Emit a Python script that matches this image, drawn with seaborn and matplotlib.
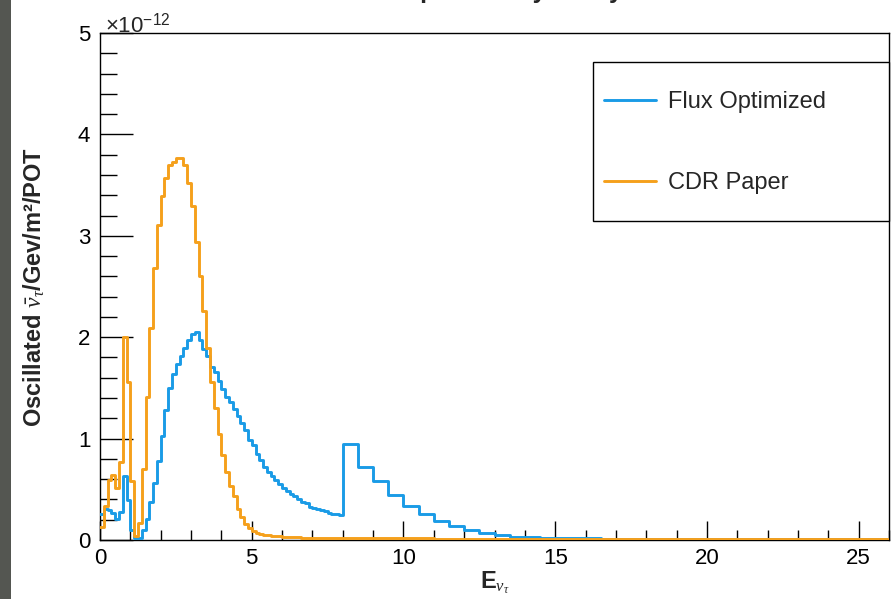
import numpy as np
import pandas as pd
import matplotlib
matplotlib.use("Agg")
import matplotlib.pyplot as plt
from matplotlib.lines import Line2D
from matplotlib.patches import Rectangle
from matplotlib.ticker import MultipleLocator
import seaborn as sns

# ---------------- data (flux in units of 1e-12) ----------------
fine_step = 0.125      # bin width below 8 GeV
coarse_step = 0.5      # bin width above 8 GeV
e_split = 8.0
e_max = 26.0

flux_optimized_fine = [0.26, 0.31, 0.30, 0.27, 0.21, 0.28, 0.63, 0.39, 0.10, 0.02, 0.02, 0.10, 0.21, 0.37,
                       0.56, 0.78, 1.03, 1.28, 1.50, 1.64, 1.74, 1.81, 1.89, 1.97, 2.03, 2.05, 1.97, 1.88,
                       1.81, 1.71, 1.66, 1.57, 1.49, 1.41, 1.36, 1.29, 1.22, 1.15, 1.08, 0.99, 0.94, 0.85,
                       0.79, 0.72, 0.67, 0.63, 0.59, 0.55, 0.51, 0.48, 0.45, 0.43, 0.40, 0.37, 0.36, 0.33,
                       0.32, 0.31, 0.30, 0.29, 0.27, 0.26, 0.26, 0.25]
flux_optimized_coarse = [0.95, 0.72, 0.58, 0.44, 0.335, 0.26, 0.19, 0.14, 0.10, 0.07, 0.045, 0.03, 0.025,
                         0.02, 0.018, 0.016, 0.015, 0.014, 0.013, 0.012, 0.011, 0.011, 0.01, 0.01, 0.01,
                         0.01, 0.01, 0.01, 0.01, 0.01, 0.01, 0.01, 0.01, 0.01, 0.01, 0.01]

cdr_paper_fine = [0.13, 0.34, 0.59, 0.64, 0.51, 0.77, 2.00, 1.56, 0.58, 0.04, 0.17, 0.70, 1.41, 2.09,
                  2.68, 3.11, 3.39, 3.57, 3.70, 3.73, 3.77, 3.77, 3.70, 3.52, 3.29, 2.94, 2.60, 2.26,
                  1.89, 1.56, 1.30, 1.05, 0.84, 0.67, 0.53, 0.43, 0.31, 0.23, 0.16, 0.12, 0.09, 0.07,
                  0.06, 0.05, 0.05, 0.04, 0.04, 0.035, 0.03, 0.03, 0.025, 0.025, 0.025, 0.022, 0.022, 0.02,
                  0.02, 0.02, 0.02, 0.018, 0.018, 0.018, 0.018, 0.018]
cdr_paper_coarse = [0.018, 0.017, 0.016, 0.016, 0.015, 0.015, 0.014, 0.014, 0.013, 0.013, 0.013, 0.012,
                    0.012, 0.012, 0.012, 0.012, 0.012, 0.012, 0.012, 0.012, 0.012, 0.012, 0.012, 0.012,
                    0.012, 0.012, 0.012, 0.012, 0.012, 0.012, 0.012, 0.012, 0.012, 0.012, 0.012, 0.012]

series_labels = ["Flux Optimized", "CDR Paper"]
series_colors = ["#1a9be6", "#f5a01c"]
x_ticks = [0, 5, 10, 15, 20, 25]
y_ticks = [0, 1, 2, 3, 4, 5]

# ---------------- bins ----------------
edges = np.concatenate([np.arange(0, e_split + 1e-9, fine_step),
                        np.arange(e_split + coarse_step, e_max + 1e-9, coarse_step)])
centers = 0.5 * (edges[:-1] + edges[1:])
bin_list = [float(v) for v in edges]

df = pd.DataFrame({
    "E": np.concatenate([centers, centers]),
    "flux": np.concatenate([flux_optimized_fine + flux_optimized_coarse,
                            cdr_paper_fine + cdr_paper_coarse]),
    "sample": [series_labels[0]] * len(centers) + [series_labels[1]] * len(centers),
})

# ---------------- style ----------------
sns.set_style("white")
plt.rcParams["font.family"] = ["Liberation Sans", "DejaVu Sans"]
plt.rcParams["mathtext.fontset"] = "custom"
plt.rcParams["mathtext.rm"] = "Liberation Sans"
plt.rcParams["mathtext.it"] = "Liberation Serif:italic"
plt.rcParams["mathtext.bf"] = "Liberation Sans:bold"

fig = plt.figure(figsize=(8.96, 5.99), dpi=100)
fig.patch.set_facecolor("white")
W, H = 896, 599
ax_l, ax_r, ax_t, ax_b = 100, 889, 33, 540
ax = fig.add_axes([ax_l / W, (H - ax_b) / H, (ax_r - ax_l) / W, (ax_b - ax_t) / H])

# gray strip on the left edge of the screenshot
fig.patches.append(Rectangle((0, 0), 11 / W, 1, transform=fig.transFigure,
                             facecolor="#545651", edgecolor="none", zorder=0))

for lab, col in zip(series_labels, series_colors):
    sub = df[df["sample"] == lab]
    sns.histplot(x=sub["E"].to_numpy(), weights=sub["flux"].to_numpy(), bins=bin_list,
                 element="step", fill=False, color=col, linewidth=2.1, ax=ax, label=lab,
                 zorder=3)

ax.set_xlim(0, e_max)
ax.set_ylim(0, 5)
ax.set_xticks(x_ticks)
ax.set_yticks(y_ticks)
ax.xaxis.set_minor_locator(MultipleLocator(1))
ax.yaxis.set_minor_locator(MultipleLocator(0.2))
ax.tick_params(axis="both", which="both", direction="in", bottom=True, left=True,
               top=False, right=False, labelsize=16, colors="black")
ax.tick_params(axis="x", which="major", length=14, width=1, pad=6)
ax.tick_params(axis="x", which="minor", length=7, width=1)
ax.tick_params(axis="y", which="major", length=24, width=1, pad=7)
ax.tick_params(axis="y", which="minor", length=12, width=1)
for s in ax.spines.values():
    s.set_visible(True)
    s.set_color("black")
    s.set_linewidth(1)

ax.set_xlabel(r"E$_{\nu_{\tau}}$", fontsize=17, fontweight="bold", labelpad=0)
ax.set_ylabel(r"Oscillated $\bar{\nu}_{\tau}$/Gev/m²/POT", fontsize=17, fontweight="bold", labelpad=22)

ax.text(5.0 / (ax_r - ax_l), 1.0 - 4.0 / (ax_b - ax_t), r"$\times$10$^{-12}$", transform=ax.transAxes,
        fontsize=16, ha="left", va="bottom")

# title (cut off by the top of the screenshot)
fig.text(0.55, 1.0 + 2.0 / H, "Oscillated Flux Comparison by Study at Far Detector",
         fontsize=18, fontweight="bold", ha="center", va="baseline")

# legend box
box_x0, box_x1, box_y0, box_y1 = 593, 889, 62, 221
ax.add_patch(Rectangle(((box_x0 - ax_l) / (ax_r - ax_l), (ax_b - box_y1) / (ax_b - ax_t)),
                       (box_x1 - box_x0) / (ax_r - ax_l), (box_y1 - box_y0) / (ax_b - ax_t),
                       transform=ax.transAxes, facecolor="white", edgecolor="black",
                       linewidth=1, zorder=4, clip_on=False))
handles = [Line2D([], [], color=c, linewidth=2.1) for c in series_colors]
leg = ax.legend(handles, series_labels, loc="upper left", frameon=False, fontsize=17,
                bbox_to_anchor=((604 - ax_l) / (ax_r - ax_l), (ax_b - 91) / (ax_b - ax_t)),
                borderpad=0, borderaxespad=0, handlelength=2.2, handletextpad=0.5,
                labelspacing=2.5)
leg.set_zorder(5)

fig.savefig("out.png", dpi=100)
